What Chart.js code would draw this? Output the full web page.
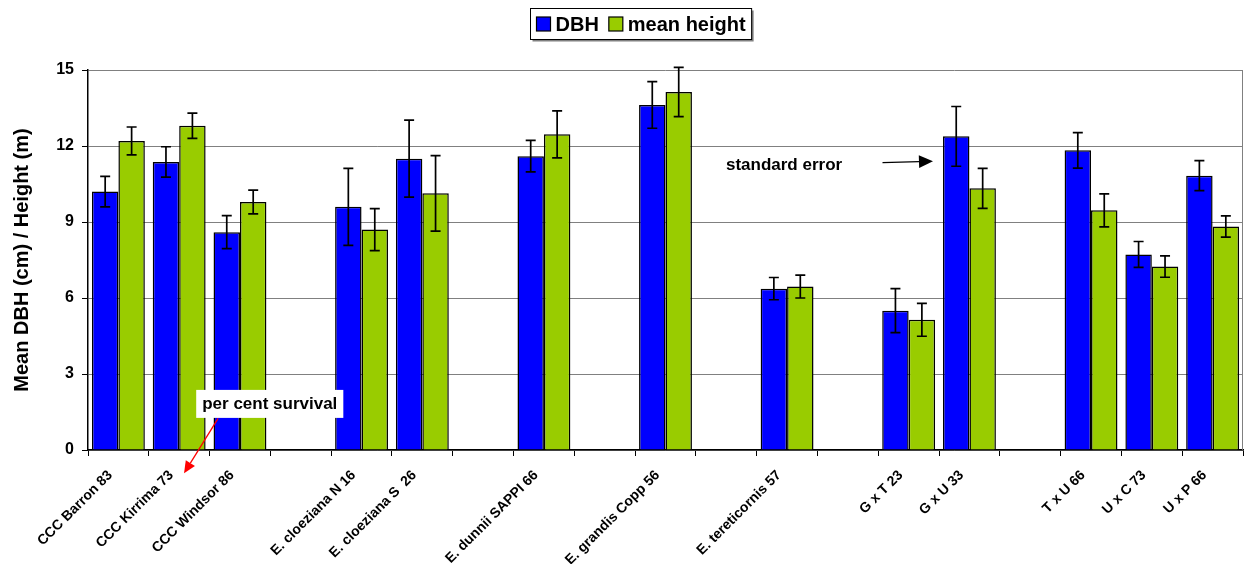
<!DOCTYPE html>
<html>
<head>
<meta charset="utf-8">
<script src="https://cdn.jsdelivr.net/npm/chart.js@4/dist/chart.umd.min.js"></script>
<style>
html,body{margin:0;padding:0;background:#fff;}
#wrap{width:1244px;height:564px;position:relative;}
</style>
</head>
<body>
<div id="wrap"><canvas id="c" width="1244" height="564"></canvas></div>
<script>
const categories = ['CCC Barron 83','CCC Kirrima 73','CCC Windsor 86','','E. cloeziana N 16','E. cloeziana S  26','','E. dunnii SAPPI 66','','E. grandis Copp 56','','E. tereticornis 57','','G x T 23','G x U 33','','T x U 66','U x C 73','U x P 66'];
const dbh       = [10.2, 11.37, 8.6, null, 9.6, 11.5, null, 11.6, null, 13.62, null, 6.37, null, 5.5, 12.38, null, 11.83, 7.72, 10.83];
const dbhErr    = [0.6, 0.6, 0.65, null, 1.52, 1.52, null, 0.62, null, 0.92, null, 0.44, null, 0.87, 1.18, null, 0.7, 0.51, 0.59];
const height    = [12.2, 12.8, 9.79, null, 8.7, 10.13, null, 12.46, null, 14.13, null, 6.45, null, 5.14, 10.33, null, 9.46, 7.24, 8.82];
const heightErr = [0.55, 0.5, 0.47, null, 0.83, 1.49, null, 0.93, null, 0.97, null, 0.45, null, 0.65, 0.79, null, 0.65, 0.42, 0.42];
const seriesNames = ['DBH', 'mean height'];
const yTicks = [0, 3, 6, 9, 12, 15];
const yTitle = 'Mean DBH (cm) / Height (m)';

const FONT = '"Liberation Sans", Arial, sans-serif';
const errs = [dbhErr, heightErr];

const errorBars = {
  id: 'errorBars',
  afterDatasetsDraw(chart) {
    const ctx = chart.ctx, y = chart.scales.y;
    ctx.save();
    ctx.strokeStyle = '#000';
    ctx.lineWidth = 1.7;
    chart.data.datasets.forEach((ds, di) => {
      const meta = chart.getDatasetMeta(di);
      meta.data.forEach((bar, i) => {
        const v = ds.data[i], e = errs[di][i];
        if (v == null || e == null) return;
        const x = bar.x;
        const yt = y.getPixelForValue(v + e), yb = y.getPixelForValue(v - e);
        ctx.beginPath();
        ctx.moveTo(x, yt); ctx.lineTo(x, yb);
        ctx.moveTo(x - 5, yt); ctx.lineTo(x + 5, yt);
        ctx.moveTo(x - 5, yb); ctx.lineTo(x + 5, yb);
        ctx.stroke();
      });
    });
    ctx.restore();
  }
};

const frame = {
  id: 'frame',
  beforeDatasetsDraw(chart) {
    const {ctx, chartArea: a} = chart;
    ctx.save();
    ctx.strokeStyle = '#808080';
    ctx.lineWidth = 1;
    ctx.beginPath();
    ctx.moveTo(Math.round(a.right) - 0.5, a.top);
    ctx.lineTo(Math.round(a.right) - 0.5, a.bottom);
    ctx.stroke();
    ctx.restore();
  }
};

function arrow(ctx, x1, y1, x2, y2, color, head) {
  ctx.strokeStyle = color; ctx.fillStyle = color;
  ctx.lineWidth = 1.3;
  const ang = Math.atan2(y2 - y1, x2 - x1);
  const bx = x2 - head * Math.cos(ang), by = y2 - head * Math.sin(ang);
  ctx.beginPath(); ctx.moveTo(x1, y1); ctx.lineTo(bx, by); ctx.stroke();
  const w = head * 0.45;
  ctx.beginPath();
  ctx.moveTo(x2, y2);
  ctx.lineTo(bx + w * Math.sin(ang), by - w * Math.cos(ang));
  ctx.lineTo(bx - w * Math.sin(ang), by + w * Math.cos(ang));
  ctx.closePath(); ctx.fill();
}

const extras = {
  id: 'extras',
  afterDraw(chart) {
    const ctx = chart.ctx, xs = chart.scales.x, ys = chart.scales.y;
    const px = v => xs.getPixelForValue(0) + v * (xs.getPixelForValue(1) - xs.getPixelForValue(0));
    const py = v => ys.getPixelForValue(v);
    ctx.save();
    // legend
    const ds = chart.data.datasets;
    ctx.font = 'bold 20px ' + FONT;
    const w0 = ctx.measureText(seriesNames[0]).width, w1 = ctx.measureText(seriesNames[1]).width;
    const box = 14, gap = 5, sep = 10, padX = 6;
    const totalW = padX + box + gap + w0 + sep + box + gap + w1 + padX;
    const cx = (chart.chartArea.left + chart.chartArea.right) / 2 - 25;
    const lx = Math.round(cx - totalW / 2) + 0.5, ly = 8.5, lh = 31;
    ctx.fillStyle = '#808080';
    ctx.fillRect(lx + 2, ly + 2, totalW, lh);
    ctx.fillStyle = '#fff';
    ctx.fillRect(lx, ly, totalW, lh);
    ctx.strokeStyle = '#000'; ctx.lineWidth = 1;
    ctx.strokeRect(lx, ly, totalW, lh);
    let xx = lx + padX;
    const my = ly + lh / 2;
    [0, 1].forEach(k => {
      ctx.fillStyle = ds[k].backgroundColor;
      ctx.fillRect(xx, my - box / 2, box, box);
      ctx.strokeStyle = '#000'; ctx.lineWidth = 1.2;
      ctx.strokeRect(xx, my - box / 2, box, box);
      xx += box + gap;
      ctx.fillStyle = '#000';
      ctx.textBaseline = 'middle'; ctx.textAlign = 'left';
      ctx.fillText(seriesNames[k], xx, my + 1);
      xx += (k === 0 ? w0 : w1) + sep;
    });
    // standard error annotation
    ctx.font = 'bold 17px ' + FONT;
    ctx.fillStyle = '#000';
    ctx.textAlign = 'center'; ctx.textBaseline = 'middle';
    ctx.fillText('standard error', px(10.95), py(11.25));
    arrow(ctx, px(12.57), py(11.34), px(13.4), py(11.4), '#000', 14);
    // per cent survival annotation
    ctx.font = 'bold 17px ' + FONT;
    const t = 'per cent survival';
    const tw = ctx.measureText(t).width;
    const bx = px(2.49), by = py(1.82);
    ctx.fillStyle = '#fff';
    ctx.fillRect(bx - tw / 2 - 6, by - 14, tw + 12, 28);
    arrow(ctx, px(1.64), py(1.25), px(1.08), py(-0.92), '#ff0000', 12);
    ctx.fillStyle = '#000';
    ctx.fillText(t, bx, by);
    ctx.restore();
  }
};

new Chart(document.getElementById('c'), {
  type: 'bar',
  data: {
    labels: categories,
    datasets: [
      { label: seriesNames[0], data: dbh, backgroundColor: '#0000ff', borderColor: '#000', borderWidth: 1.5 },
      { label: seriesNames[1], data: height, backgroundColor: '#99cc00', borderColor: '#000', borderWidth: 1.5 }
    ]
  },
  options: {
    responsive: false,
    animation: false,
    devicePixelRatio: 1,
    layout: { padding: { top: 70, right: 1, left: 0, bottom: 0 } },
    datasets: { bar: { categoryPercentage: 0.87, barPercentage: 1.0 } },
    plugins: { legend: { display: false }, tooltip: { enabled: false } },
    scales: {
      x: {
        offset: true,
        grid: { display: true, drawOnChartArea: false, offset: true, tickLength: 6, color: '#000', tickColor: '#000' },
        border: { color: '#000', width: 1.5 },
        ticks: { autoSkip: false, maxRotation: 45, minRotation: 45, color: '#000', font: { family: FONT, size: 14, weight: 'bold' }, padding: 11, labelOffset: -8 },
        afterFit(s) { s.height = 114; }
      },
      y: {
        min: 0, max: 15,
        afterBuildTicks(s) { s.ticks = yTicks.map(v => ({ value: v })); },
        grid: { color: '#808080', lineWidth: 1, tickLength: 6, tickColor: '#000' },
        border: { color: '#000', width: 1.5 },
        ticks: { color: '#000', font: { family: FONT, size: 16, weight: 'bold' }, padding: 8 },
        title: { display: true, text: yTitle, color: '#000', font: { family: FONT, size: 20, weight: 'bold' }, padding: { top: 10, bottom: 0 } },
        afterFit(s) { s.width = 88; }
      }
    }
  },
  plugins: [frame, errorBars, extras]
});
</script>
</body>
</html>
